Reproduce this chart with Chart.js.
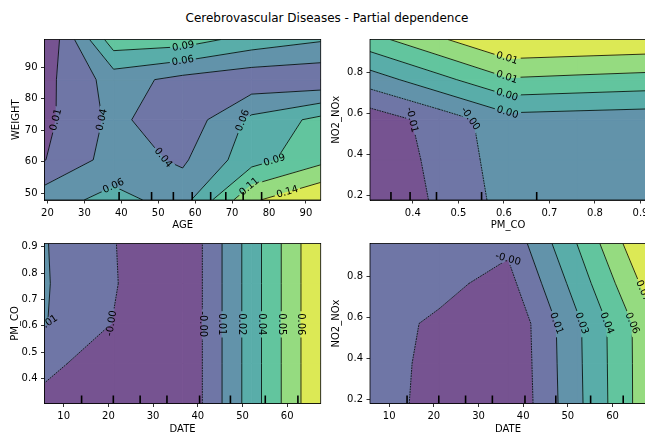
<!DOCTYPE html>
<html><head><meta charset="utf-8">
<script src="https://cdn.jsdelivr.net/npm/chart.js@4.4.1/dist/chart.umd.min.js"></script>
<style>
html,body{margin:0;padding:0;background:#fff;}
body{width:645px;height:434px;overflow:hidden;position:relative;font-family:"DejaVu Sans",sans-serif;}
#title{position:absolute;left:0;top:11px;width:654px;text-align:center;font-size:12px;line-height:14px;color:#000;white-space:nowrap;}
.panel{position:absolute;}
</style></head>
<body>
<div id="title">Cerebrovascular Diseases - Partial dependence</div>
<div class="panel" style="left:0px;top:28px;width:330px;height:207px"><canvas id="p1"></canvas></div>
<div class="panel" style="left:325px;top:28px;width:330px;height:207px"><canvas id="p2"></canvas></div>
<div class="panel" style="left:0px;top:232px;width:330px;height:207px"><canvas id="p3"></canvas></div>
<div class="panel" style="left:325px;top:232px;width:330px;height:207px"><canvas id="p4"></canvas></div>
<script>
// ---------- grids (feature values) ----------
const ageGrid = [19.2, 37.9, 56.6, 75.3, 94.0];
const weightGrid = [47.9, 60.625, 73.35, 86.075, 98.8];
const pmcoGrid = [0.306, 0.4575, 0.609, 0.7605, 0.912];
const no2Grid = [0.18, 0.3755, 0.571, 0.7665, 0.962];
const dateGrid = [5.7, 21.15, 36.6, 52.05, 67.5];

// ---------- partial dependence values (rows: y grid bottom->top, cols: x grid) ----------
const pdAgeWeight = [
  [0.05234, 0.06968, 0.05221, 0.13241, 0.1607],
  [0.01236, 0.04828, 0.03401, 0.07706, 0.10461],
  [0.00695, 0.04385, 0.02048, 0.0682, 0.09379],
  [0.00572, 0.04852, 0.03032, 0.02048, 0.01802],
  [-0.0115, 0.10166, 0.0992, 0.07706, 0.06476]
];
const pdPmcoNo2 = [
  [-0.0097, -0.00557, -0.00144, -0.00137, -0.0013],
  [-0.00904, -0.00519, -0.00102, -0.00113, -0.00127],
  [-0.00834, -0.0048, -0.0006, -0.00095, -0.00127],
  [-0.00099, 0.00322, 0.00745, 0.00693, 0.00644],
  [0.00658, 0.01078, 0.0148, 0.01445, 0.01407]
];
const pdDatePmco = [
  [-0.00581, -0.01045, -0.0172, 0.03005, 0.0773],
  [-0.0017, -0.00775, -0.0172, 0.03005, 0.0773],
  [0.01048, -0.00411, -0.0172, 0.03005, 0.0773],
  [0.01095, -0.00271, -0.0172, 0.03005, 0.0773],
  [0.0106, -0.00311, -0.0172, 0.03005, 0.0773]
];
const pdDateNo2 = [
  [0.00723, -0.0104, -0.018, 0.02391, 0.06621],
  [0.0048, -0.00766, -0.01724, 0.02441, 0.06621],
  [0.00282, -0.00508, -0.01648, 0.02486, 0.06636],
  [0.00374, 0.00115, -0.00797, 0.03383, 0.0773],
  [0.0048, 0.00731, 0.00054, 0.04295, 0.0884]
];

// ---------- deciles (rug ticks) ----------
const ageDeciles = [39.4, 48.2, 54.1, 59.2, 64.2, 68.3, 73.0, 78.0];
const pmcoDeciles = [0.352, 0.394, 0.452, 0.551, 0.672];
const dateDeciles = [14.0, 21.1, 27.1, 33.1, 40.4, 47.3, 55.1, 62.4];

// ---------- tick values ----------
const ageTicks = [20, 30, 40, 50, 60, 70, 80, 90];
const weightTicks = [50, 60, 70, 80, 90];
const pmcoTicks = [0.4, 0.5, 0.6, 0.7, 0.8, 0.9];
const no2Ticks = [0.2, 0.4, 0.6, 0.8];
const dateTicks = [10, 20, 30, 40, 50, 60];

// ---------- contour label anchors [x, y, level index, optional angle in degrees] ----------
const spotsAgeWeight = [[23.2,73.3,1],[35.9,73.5,2],[56.6,97.8,4],[56.6,92.5,3],[71.9,73.5,3],[50.8,60.8,2],[38.1,53.4,3],[81.4,60.8,4],[76.2,50.0,5],[85.2,49.5,6]];
const spotsPmcoNo2 = [[0.6075,0.875,6],[0.6075,0.7856,5],[0.6075,0.6965,4],[0.6075,0.6053,3],[0.3976,0.5698,1],[0.5256,0.5732,2,55]];
const spotsDatePmco = [[7.1,0.606,2],[22.2,0.606,1],[40.9,0.606,1],[45.4,0.606,2],[50.0,0.606,3],[54.5,0.606,4],[59.0,0.606,5],[63.3,0.606,6]];
const spotsDateNo2 = [[37.6,0.895,1,15],[47.6,0.573,2],[53.2,0.573,3],[58.8,0.573,4],[64.4,0.573,5],[66.5,0.727,6]];

// viridis sampled at band centres, alpha 0.75 over white
const bandColors = ['#765391','#6f76a6','#6293aa','#59ada9','#62c59e','#95db80','#dce955'];

Chart.defaults.font.family = '"DejaVu Sans", sans-serif';
Chart.defaults.font.size = 10;
Chart.defaults.color = '#000';

function linspace(a, b, n) { const r = []; for (let i = 0; i < n; i++) r.push(a + (b - a) * i / (n - 1)); return r; }

function bandPoly(P, V, lo, hi) {
  const out = [];
  for (let e = 0; e < 4; e++) {
    const a = P[e], b = P[(e + 1) % 4], va = V[e], vb = V[(e + 1) % 4];
    if (va >= lo && va <= hi) out.push(a);
    const ts = [];
    [lo, hi].forEach(L => {
      if (isFinite(L) && ((va < L && vb > L) || (va > L && vb < L))) ts.push((L - va) / (vb - va));
    });
    ts.sort((p, q) => p - q);
    ts.forEach(t => out.push([a[0] + t * (b[0] - a[0]), a[1] + t * (b[1] - a[1])]));
  }
  return out;
}

function cellSegments(P, V, L) {
  const pts = [];
  for (let e = 0; e < 4; e++) {
    const a = P[e], b = P[(e + 1) % 4], va = V[e], vb = V[(e + 1) % 4];
    if ((va < L && vb >= L) || (va >= L && vb < L)) {
      const t = (L - va) / (vb - va);
      pts.push([a[0] + t * (b[0] - a[0]), a[1] + t * (b[1] - a[1])]);
    }
  }
  if (pts.length === 2) return [[pts[0], pts[1]]];
  if (pts.length === 4) {
    const c = (V[0] + V[1] + V[2] + V[3]) / 4;
    if ((c >= L) === (V[0] >= L)) return [[pts[0], pts[1]], [pts[2], pts[3]]];
    return [[pts[3], pts[0]], [pts[1], pts[2]]];
  }
  return [];
}

function project(p, a, b) {
  const dx = b[0] - a[0], dy = b[1] - a[1], l2 = dx * dx + dy * dy;
  let t = l2 ? ((p[0] - a[0]) * dx + (p[1] - a[1]) * dy) / l2 : 0;
  t = Math.max(0, Math.min(1, t));
  const q = [a[0] + t * dx, a[1] + t * dy];
  return { q, d: Math.hypot(p[0] - q[0], p[1] - q[1]) };
}

function contourPlugin(spec) {
  return {
    id: 'pd_' + spec.id,
    beforeDatasetsDraw(chart) {
      const ctx = chart.ctx, ca = chart.chartArea;
      const xs = chart.scales.x, ys = chart.scales.y;
      const Z = spec.z, xg = spec.xg, yg = spec.yg;
      let zmin = Infinity, zmax = -Infinity;
      Z.forEach(r => r.forEach(v => { zmin = Math.min(zmin, v); zmax = Math.max(zmax, v); }));
      const levels = linspace(zmin, zmax, 8);
      const PX = xg.map(v => xs.getPixelForValue(v));
      const PY = yg.map(v => ys.getPixelForValue(v));
      const W = ca.right - ca.left, H = ca.bottom - ca.top;
      ctx.save();
      ctx.beginPath(); ctx.rect(ca.left, ca.top, W, H); ctx.clip();
      ctx.lineJoin = 'round';
      // filled bands
      for (let k = 0; k < 7; k++) {
        const lo = k === 0 ? -Infinity : levels[k];
        const hi = k === 6 ? Infinity : levels[k + 1];
        ctx.fillStyle = bandColors[k]; ctx.strokeStyle = bandColors[k]; ctx.lineWidth = 0.8;
        for (let j = 0; j < yg.length - 1; j++) for (let i = 0; i < xg.length - 1; i++) {
          const P = [[PX[i], PY[j]], [PX[i + 1], PY[j]], [PX[i + 1], PY[j + 1]], [PX[i], PY[j + 1]]];
          const V = [Z[j][i], Z[j][i + 1], Z[j + 1][i + 1], Z[j + 1][i]];
          const poly = bandPoly(P, V, lo, hi);
          if (poly.length < 3) continue;
          ctx.beginPath(); ctx.moveTo(poly[0][0], poly[0][1]);
          for (let m = 1; m < poly.length; m++) ctx.lineTo(poly[m][0], poly[m][1]);
          ctx.closePath(); ctx.fill(); ctx.stroke();
        }
      }
      // contour segments
      const segs = {};
      for (let k = 1; k < 7; k++) {
        segs[k] = [];
        for (let j = 0; j < yg.length - 1; j++) for (let i = 0; i < xg.length - 1; i++) {
          const P = [[PX[i], PY[j]], [PX[i + 1], PY[j]], [PX[i + 1], PY[j + 1]], [PX[i], PY[j + 1]]];
          const V = [Z[j][i], Z[j][i + 1], Z[j + 1][i + 1], Z[j + 1][i]];
          cellSegments(P, V, levels[k]).forEach(s => segs[k].push(s));
        }
      }
      // labels
      ctx.font = '10px "DejaVu Sans", sans-serif';
      const labels = [];
      spec.spots.forEach(([lx, ly, k, fixedAng]) => {
        const p = [xs.getPixelForValue(lx), ys.getPixelForValue(ly)];
        let best = null;
        segs[k].forEach(([a, b]) => {
          const r = project(p, a, b);
          if (!best || r.d < best.d) best = { d: r.d, q: r.q, a, b };
        });
        if (!best) return;
        let ang = Math.atan2(best.b[1] - best.a[1], best.b[0] - best.a[0]);
        if (ang > Math.PI / 2 + 1e-9) ang -= Math.PI;
        if (ang <= -Math.PI / 2 + 1e-9) ang += Math.PI;
        if (fixedAng !== undefined) ang = fixedAng * Math.PI / 180;
        const text = levels[k].toFixed(2);
        labels.push({ x: best.q[0], y: best.q[1], ang, text, w: ctx.measureText(text).width });
      });
      // contour lines with gaps under labels
      ctx.save();
      ctx.beginPath();
      ctx.rect(ca.left, ca.top, W, H);
      labels.forEach(L => {
        const c = Math.cos(L.ang), s = Math.sin(L.ang), hw = L.w / 2 + 2, hh = 5;
        const pts = [[-hw, -hh], [hw, -hh], [hw, hh], [-hw, hh]].map(([u, v]) => [L.x + u * c - v * s, L.y + u * s + v * c]);
        ctx.moveTo(pts[0][0], pts[0][1]);
        for (let m = 1; m < 4; m++) ctx.lineTo(pts[m][0], pts[m][1]);
        ctx.closePath();
      });
      ctx.clip('evenodd');
      ctx.strokeStyle = '#000'; ctx.lineWidth = 0.8; ctx.lineCap = 'butt';
      for (let k = 1; k < 7; k++) {
        ctx.setLineDash(levels[k] < 0 ? [1.85, 0.8] : []);
        ctx.beginPath();
        segs[k].forEach(([a, b]) => { ctx.moveTo(a[0], a[1]); ctx.lineTo(b[0], b[1]); });
        ctx.stroke();
      }
      ctx.setLineDash([]);
      ctx.restore();
      // decile rug
      ctx.strokeStyle = '#000'; ctx.lineWidth = 1.6;
      ctx.beginPath();
      spec.deciles.forEach(d => {
        const x = xs.getPixelForValue(d);
        ctx.moveTo(x, ca.bottom); ctx.lineTo(x, ca.bottom - 0.05 * H);
      });
      ctx.stroke();
      // label text
      ctx.fillStyle = '#000'; ctx.textAlign = 'center'; ctx.textBaseline = 'middle';
      labels.forEach(L => {
        ctx.save(); ctx.translate(L.x, L.y); ctx.rotate(L.ang); ctx.fillText(L.text, 0, 0); ctx.restore();
      });
      ctx.restore();
      // frame
      ctx.save();
      ctx.strokeStyle = '#000'; ctx.lineWidth = 0.8;
      ctx.strokeRect(ca.left, ca.top, W, H);
      ctx.restore();
    }
  };
}

function axisOpts(spec, which) {
  const isX = which === 'x';
  const grid = isX ? spec.xg : spec.yg;
  const ticksV = isX ? spec.xTicks : spec.yTicks;
  const fmt = isX ? spec.xFmt : spec.yFmt;
  return {
    type: 'linear',
    position: isX ? 'bottom' : 'left',
    min: grid[0], max: grid[grid.length - 1],
    afterBuildTicks: s => { s.ticks = ticksV.map(v => ({ value: v })); },
    afterFit: s => { if (isX) s.height = spec.xAxisH; else s.width = spec.yAxisW; },
    ticks: { callback: v => fmt(v), padding: 3.5, maxRotation: 0, minRotation: 0, autoSkip: false, color: '#000', font: { size: 10 } },
    grid: { display: true, drawOnChartArea: false, drawTicks: true, tickLength: 3.5, tickWidth: 0.8, tickColor: '#000', color: '#000' },
    border: { display: true, color: '#000', width: 0.8 },
    title: { display: true, text: isX ? spec.xTitle : spec.yTitle, color: '#000', font: { size: 10 },
      padding: isX ? { top: 0, bottom: 3.5 } : { top: spec.yTitlePad, bottom: 0 } }
  };
}

function makePanel(spec) {
  return new Chart(document.getElementById(spec.id), {
    type: 'scatter',
    data: { datasets: [] },
    options: {
      responsive: true, maintainAspectRatio: false, animation: false, devicePixelRatio: 1,
      layout: { padding: spec.padding },
      plugins: { legend: { display: false }, tooltip: { enabled: false }, title: { display: false } },
      scales: { x: axisOpts(spec, 'x'), y: axisOpts(spec, 'y') }
    },
    plugins: [contourPlugin(spec)]
  });
}

const intFmt = v => String(Math.round(v));
const decFmt = v => v.toFixed(1);

makePanel({ id: 'p1', xg: ageGrid, yg: weightGrid, z: pdAgeWeight, deciles: ageDeciles, spots: spotsAgeWeight,
  xTicks: ageTicks, yTicks: weightTicks, xFmt: intFmt, yFmt: intFmt, xTitle: 'AGE', yTitle: 'WEIGHT',
  padding: { left: 0, top: 11.5, right: 9.3, bottom: 0 }, xAxisH: 35, yAxisW: 44.5, yTitlePad: 10.7 });
makePanel({ id: 'p2', xg: pmcoGrid, yg: no2Grid, z: pdPmcoNo2, deciles: pmcoDeciles, spots: spotsPmcoNo2,
  xTicks: pmcoTicks, yTicks: no2Ticks, xFmt: decFmt, yFmt: decFmt, xTitle: 'PM_CO', yTitle: 'NO2_NOx',
  padding: { left: 0, top: 11.5, right: 9, bottom: 0 }, xAxisH: 35, yAxisW: 45, yTitlePad: 5.7 });
makePanel({ id: 'p3', xg: dateGrid, yg: pmcoGrid, z: pdDatePmco, deciles: dateDeciles, spots: spotsDatePmco,
  xTicks: dateTicks, yTicks: pmcoTicks, xFmt: intFmt, yFmt: decFmt, xTitle: 'DATE', yTitle: 'PM_CO',
  padding: { left: 0, top: 11.5, right: 9.3, bottom: 0 }, xAxisH: 35.5, yAxisW: 44.5, yTitlePad: 9 });
makePanel({ id: 'p4', xg: dateGrid, yg: no2Grid, z: pdDateNo2, deciles: dateDeciles, spots: spotsDateNo2,
  xTicks: dateTicks, yTicks: no2Ticks, xFmt: intFmt, yFmt: decFmt, xTitle: 'DATE', yTitle: 'NO2_NOx',
  padding: { left: 0, top: 11.5, right: 9, bottom: 0 }, xAxisH: 35.5, yAxisW: 45, yTitlePad: 5.7 });
</script>
</body></html>
